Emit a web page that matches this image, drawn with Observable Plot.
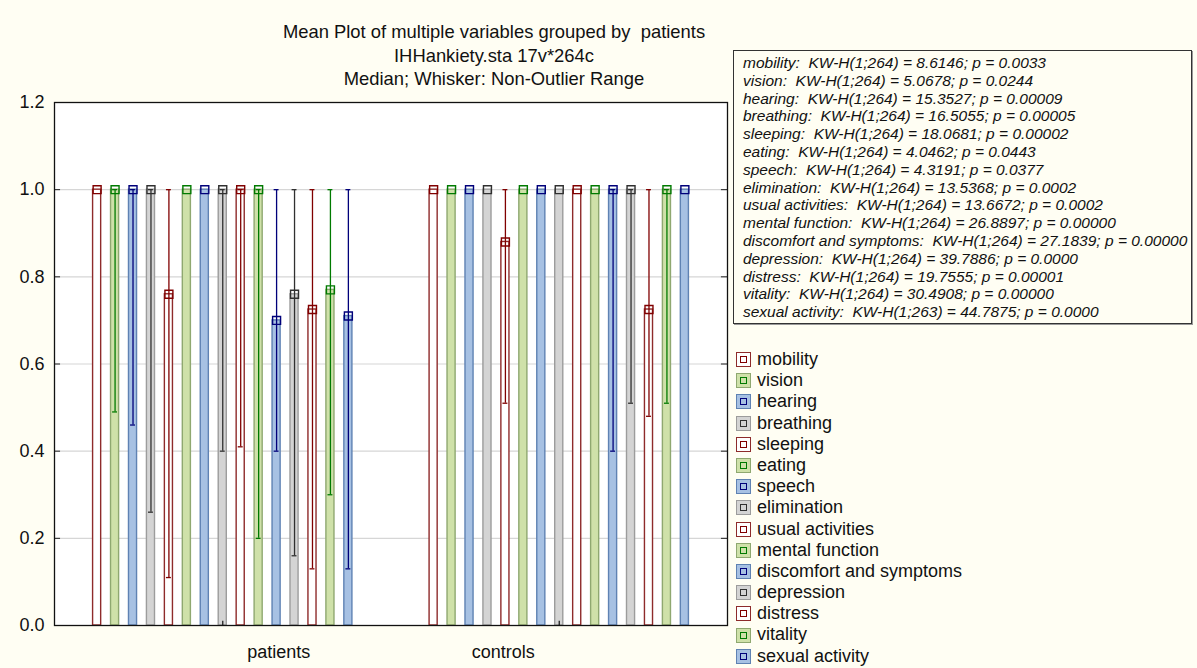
<!DOCTYPE html>
<html><head><meta charset="utf-8">
<script src="https://cdn.jsdelivr.net/npm/d3@7"></script>
<script src="https://cdn.jsdelivr.net/npm/@observablehq/plot@0.6"></script>
<style>
body{margin:0;background:#fffef3;font-family:Arial,"Liberation Sans",sans-serif;color:#111;}
#wrap{position:relative;width:1197px;height:668px;overflow:hidden;}
#chart{position:absolute;left:0;top:0;}
#title{position:absolute;left:194px;top:20px;width:600px;text-align:center;font-size:18.4px;line-height:23.5px;white-space:nowrap;}
#stats{position:absolute;left:733px;top:50px;width:459px;height:274px;box-sizing:border-box;border:1px solid #333;box-shadow:1px 1px 0 #999;background:#fffef3;overflow:hidden;padding:3px 0 0 9px;font-style:italic;font-size:15.5px;line-height:17.8px;white-space:nowrap;}
#legend{position:absolute;left:736px;top:349px;font-size:18px;line-height:21.2px;white-space:nowrap;}
.li{display:flex;align-items:center;height:21.2px;}
.sw{width:15px;height:15px;box-sizing:border-box;border:1.5px solid;display:flex;align-items:center;justify-content:center;margin-right:6px;}
.sw i{display:block;width:7px;height:7px;box-sizing:border-box;border:1.3px solid;}
</style></head>
<body>
<div id="wrap">
  <div id="chart"></div>
  <div id="title"></div>
  <div id="stats"></div>
  <div id="legend"></div>
</div>
<script>
const titleLines = ["Mean Plot of multiple variables grouped by  patients", "IHHankiety.sta 17v*264c", "Median; Whisker: Non-Outlier Range"];
const variables = ["mobility","vision","hearing","breathing","sleeping","eating","speech","elimination","usual activities","mental function","discomfort and symptoms","depression","distress","vitality","sexual activity"];
const groups = ["patients","controls"];
const patientsMedian = [1,1,1,1,0.76,1,1,1,1,1,0.70,0.76,0.725,0.77,0.71];
const patientsMin    = [1,0.49,0.46,0.26,0.11,1,1,0.40,0.41,0.20,0.40,0.16,0.13,0.30,0.13];
const patientsMax    = [1,1,1,1,1,1,1,1,1,1,1,1,1,1,1];
const controlsMedian = [1,1,1,1,0.88,1,1,1,1,1,1,1,0.725,1,1];
const controlsMin    = [1,1,1,1,0.51,1,1,1,1,1,0.40,0.51,0.48,0.51,1];
const controlsMax    = [1,1,1,1,1,1,1,1,1,1,1,1,1,1,1];
const statsLines = [
 "mobility:  KW-H(1;264) = 8.6146; p = 0.0033",
 "vision:  KW-H(1;264) = 5.0678; p = 0.0244",
 "hearing:  KW-H(1;264) = 15.3527; p = 0.00009",
 "breathing:  KW-H(1;264) = 16.5055; p = 0.00005",
 "sleeping:  KW-H(1;264) = 18.0681; p = 0.00002",
 "eating:  KW-H(1;264) = 4.0462; p = 0.0443",
 "speech:  KW-H(1;264) = 4.3191; p = 0.0377",
 "elimination:  KW-H(1;264) = 13.5368; p = 0.0002",
 "usual activities:  KW-H(1;264) = 13.6672; p = 0.0002",
 "mental function:  KW-H(1;264) = 26.8897; p = 0.00000",
 "discomfort and symptoms:  KW-H(1;264) = 27.1839; p = 0.00000",
 "depression:  KW-H(1;264) = 39.7886; p = 0.0000",
 "distress:  KW-H(1;264) = 19.7555; p = 0.00001",
 "vitality:  KW-H(1;264) = 30.4908; p = 0.00000",
 "sexual activity:  KW-H(1;263) = 44.7875; p = 0.0000"
];
const yTicks = [0,0.2,0.4,0.6,0.8,1.0,1.2];

const fills    = ["#ffffff","#cfe1a9","#a7c1e3","#d4d4d4"];
const borders  = ["#8e2b2b","#8fa870","#5f82b3","#9c9c9c"];
const whiskers = ["#800000","#007a00","#00007a","#303030"];

// layout in x data units (domain 0..3)
const groupCenter = [0.75, 2.25];
const step = 0.08, hw = 0.018, cw = 0.011;

const medians = [patientsMedian, controlsMedian];
const mins = [patientsMin, controlsMin];
const maxs = [patientsMax, controlsMax];
const rows = [];
groups.forEach((g, gi) => variables.forEach((v, i) => rows.push({
  group: g, variable: v, median: medians[gi][i], lo: mins[gi][i], hi: maxs[gi][i],
  pos: groupCenter[gi] + (i - (variables.length - 1) / 2) * step, cls: i % 4
})));
const wRows = rows.filter(d => d.lo < d.hi);

const chart = Plot.plot({
  width: 1197, height: 668,
  marginLeft: 54, marginRight: 470, marginTop: 102, marginBottom: 43,
  style: {fontFamily: "Arial, 'Liberation Sans', sans-serif", fontSize: "18px", color: "#111", background: "transparent"},
  x: {type: "linear", domain: [0, 3]},
  y: {domain: [0, 1.2]},
  color: {type: "identity"},
  marks: [
    Plot.frame({fill: "white"}),
    Plot.ruleY(yTicks.slice(1, -1), {stroke: "#d6d6d6", strokeWidth: 1.2}),
    Plot.ruleY(yTicks, {x1: 0, x2: 0.027, stroke: "#222"}),
    Plot.ruleY(yTicks, {x1: 3 - 0.027, x2: 3, stroke: "#222"}),
    Plot.rectY(rows, {x1: d => d.pos - hw, x2: d => d.pos + hw, y1: 0, y2: "median",
      fill: d => fills[d.cls], stroke: d => borders[d.cls], strokeWidth: 1.4}),
    Plot.ruleX(wRows, {x: "pos", y1: "lo", y2: "hi", stroke: d => whiskers[d.cls], strokeWidth: 1.3}),
    Plot.ruleY(wRows, {y: "lo", x1: d => d.pos - cw, x2: d => d.pos + cw, stroke: d => whiskers[d.cls], strokeWidth: 1.3}),
    Plot.ruleY(wRows, {y: "hi", x1: d => d.pos - cw, x2: d => d.pos + cw, stroke: d => whiskers[d.cls], strokeWidth: 1.3}),
    Plot.dot(rows, {x: "pos", y: "median", symbol: "square", r: 4.5, fill: "none", stroke: d => whiskers[d.cls], strokeWidth: 1.4}),
    Plot.ruleX(groupCenter, {y1: 0, y2: 0.01, stroke: "#222", strokeWidth: 1.3}),
    Plot.frame({stroke: "#111", strokeWidth: 1.3}),
    Plot.axisY({ticks: yTicks, tickFormat: d3.format(".1f"), tickSize: 0, tickPadding: 10, fontSize: 18, label: null}),
    Plot.axisX({ticks: [1, 2], tickFormat: d => groups[d - 1], tickSize: 0, tickPadding: 20, fontSize: 18, label: null})
  ]
});
document.getElementById("chart").appendChild(chart);

document.getElementById("title").innerHTML = titleLines.map(t => `<div>${t.replace(/  /g, " &nbsp;")}</div>`).join("");
document.getElementById("stats").innerHTML = statsLines.map(t => `<div>${t.replace(/  /g, " &nbsp;")}</div>`).join("");
document.getElementById("legend").innerHTML = variables.map((v, i) =>
  `<div class="li"><span class="sw" style="background:${fills[i % 4]};border-color:${borders[i % 4]}"><i style="border-color:${whiskers[i % 4]}"></i></span>${v}</div>`).join("");
</script>
</body></html>
